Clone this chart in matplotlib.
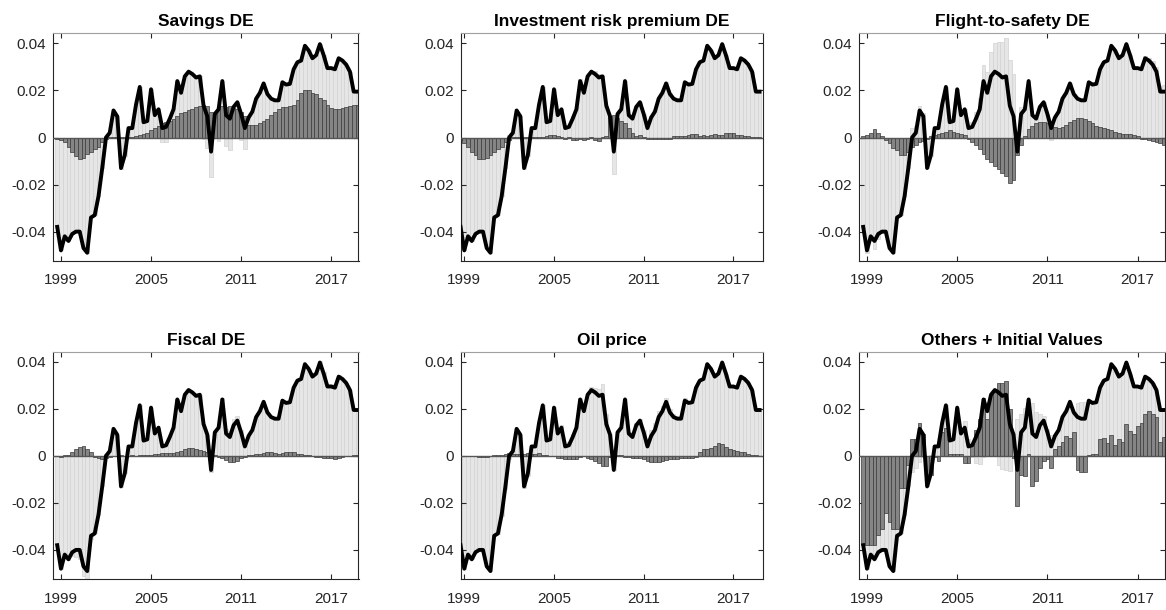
import numpy as np
import matplotlib
matplotlib.use('Agg')
import matplotlib.pyplot as plt
from matplotlib.ticker import FuncFormatter

plt.rcParams['font.family'] = ['Liberation Sans', 'DejaVu Sans']

# quarterly dates, 1998Q4 .. 2018Q4
dates = 1998.75 + 0.25 * np.arange(81)

# observed series (black line)
total = [
    -0.038, -0.048, -0.042, -0.044, -0.041, -0.040, -0.040, -0.047, -0.049, -0.034,
    -0.033, -0.025, -0.013, 0.000, 0.002, 0.0115, 0.009, -0.013, -0.0075, 0.004,
    0.004, 0.014, 0.0215, 0.0065, 0.007, 0.0205, 0.0095, 0.012, 0.004, 0.0045,
    0.008, 0.012, 0.024, 0.019, 0.026, 0.028, 0.027, 0.0255, 0.026, 0.0135,
    0.009, -0.006, 0.010, 0.012, 0.024, 0.0095, 0.008, 0.013, 0.015, 0.010,
    0.004, 0.0085, 0.011, 0.0165, 0.019, 0.023, 0.0185, 0.0165, 0.0158, 0.0158,
    0.0235, 0.0225, 0.0228, 0.029, 0.032, 0.0327, 0.039, 0.037, 0.0337, 0.035,
    0.0397, 0.035, 0.0295, 0.0295, 0.029, 0.0337, 0.0327, 0.031, 0.028, 0.0195,
    0.0195,
]

# contribution of each shock
savings = [
    -0.0005, -0.001, -0.002, -0.004, -0.006, -0.008, -0.009, -0.0085, -0.007, -0.006,
    -0.005, -0.004, -0.002, -0.0005, 0.0002, 0.0003, 0.0003, 0.0002, 0.0002, 0.0003,
    0.0003, 0.0005, 0.001, 0.0015, 0.002, 0.003, 0.004, 0.005, 0.006, 0.0065,
    0.007, 0.008, 0.009, 0.0105, 0.011, 0.0115, 0.012, 0.013, 0.0135, 0.014,
    0.0135, 0.011, 0.010, 0.0135, 0.0135, 0.013, 0.0135, 0.0125, 0.012, 0.011,
    0.009, 0.0055, 0.0055, 0.0055, 0.006, 0.007, 0.008, 0.0095, 0.011, 0.012,
    0.013, 0.013, 0.0135, 0.014, 0.016, 0.019, 0.020, 0.020, 0.019, 0.0185,
    0.017, 0.016, 0.014, 0.0125, 0.0123, 0.0123, 0.0125, 0.013, 0.0135, 0.014,
    0.014,
]

inv_risk = [
    -0.001, -0.0025, -0.004, -0.006, -0.0075, -0.009, -0.009, -0.0085, -0.0075, -0.006,
    -0.005, -0.004, -0.002, -0.001, 0.0003, 0.0003, 0.0003, 0.0002, 0.0002, 0.0002,
    0.0003, 0.0003, 0.0003, 0.0005, 0.001, 0.001, 0.0005, 0.0002, -0.0005, 0.0002,
    -0.001, -0.001, -0.0008, -0.001, -0.0005, 0.0002, -0.0012, -0.0015, 0.0002, 0.0005,
    0.009, 0.0095, 0.0085, 0.007, 0.006, 0.004, 0.002, 0.0005, 0.0012, 0.0002,
    -0.0005, -0.0005, -0.0007, -0.0007, -0.0008, -0.0008, -0.0005, 0.0008, 0.0006, 0.0008,
    0.0005, 0.001, 0.0015, 0.0015, 0.0008, 0.001, 0.0008, 0.0012, 0.0015, 0.0012,
    0.0012, 0.0018, 0.002, 0.0018, 0.0012, 0.0012, 0.0008, 0.0005, 0.0003, 0.0003,
    0.0003,
]

flight = [
    0.0005, 0.001, 0.002, 0.0035, 0.002, 0.0008, -0.001, -0.0025, -0.0045, -0.0055,
    -0.0075, -0.0075, -0.006, -0.004, -0.003, -0.002, -0.0015, -0.0008, 0.0005, 0.001,
    0.0015, 0.002, 0.0025, 0.003, 0.0025, 0.002, 0.0015, 0.001, -0.0005, -0.002,
    -0.003, -0.005, -0.007, -0.009, -0.0105, -0.012, -0.0135, -0.015, -0.0165, -0.0195,
    -0.018, -0.0075, -0.003, 0.0005, 0.0035, 0.005, 0.006, 0.0065, 0.0068, 0.006,
    0.005, 0.0045, 0.004, 0.0045, 0.0055, 0.0068, 0.0075, 0.0085, 0.0085, 0.008,
    0.007, 0.006, 0.005, 0.0045, 0.004, 0.0035, 0.003, 0.0025, 0.002, 0.0015,
    0.0015, 0.0015, 0.001, 0.0005, -0.0005, -0.0008, -0.001, -0.0015, -0.002, -0.0025,
    -0.003,
]

fiscal = [
    -0.0002, -0.0005, 0.0002, 0.0005, 0.0015, 0.003, 0.0038, 0.004, 0.003, 0.0015,
    -0.0003, -0.0008, -0.0012, -0.0008, -0.0003, -0.0002, 0.0001, 0.0002, -0.0001, 0.0001,
    0.0002, 0.0001, 0.0002, 0.0002, 0.0002, 0.0005, 0.0008, 0.001, 0.0012, 0.0012,
    0.0012, 0.0012, 0.0015, 0.002, 0.0028, 0.0035, 0.0035, 0.003, 0.0025, 0.002,
    0.0015, 0.0008, 0.0005, -0.0003, -0.0008, -0.0018, -0.0025, -0.0028, -0.002, -0.001,
    -0.0005, 0.0002, 0.0005, 0.0008, 0.001, 0.0012, 0.0015, 0.0018, 0.0012, 0.001,
    0.0012, 0.0015, 0.0018, 0.0015, 0.001, 0.0008, 0.0005, 0.0002, 0.0001, -0.0003,
    -0.0005, -0.0008, -0.001, -0.001, -0.0012, -0.0008, -0.0005, -0.0002, 0.0001, 0.0002,
    0.0002,
]

oil = [
    -0.0001, -0.0001, -0.0002, -0.0002, -0.0002, -0.0004, -0.0005, -0.0003, 0.0001, 0.0002,
    0.0003, 0.0005, 0.001, 0.0012, 0.0008, 0.001, 0.0008, 0.0008, 0.0012, 0.001,
    0.001, 0.0012, 0.0005, 0.0002, 0.0001, -0.0002, -0.0008, -0.001, -0.0012, -0.0015,
    -0.0015, -0.0012, -0.0005, 0.0001, -0.0008, -0.0012, -0.002, -0.003, -0.0045, -0.0045,
    -0.0005, 0.0002, 0.0005, 0.0002, -0.0003, -0.0005, -0.0008, -0.001, -0.0008, -0.0012,
    -0.002, -0.0025, -0.0028, -0.0025, -0.002, -0.0018, -0.0015, -0.0012, -0.0012, -0.001,
    -0.001, -0.001, -0.0008, -0.0003, 0.0015, 0.003, 0.0028, 0.0035, 0.004, 0.0055,
    0.005, 0.0038, 0.003, 0.0025, 0.002, 0.0018, 0.0015, 0.001, 0.0005, 0.0002,
    0.0001,
]

others = [
    -0.038, -0.038, -0.038, -0.038, -0.0335, -0.031, -0.0245, -0.028, -0.031, -0.031,
    -0.0135, -0.0135, -0.004, 0.007, 0.007, 0.014, 0.0095, -0.010, -0.008, -0.0005,
    -0.002, 0.010, 0.012, 0.001, 0.001, 0.001, 0.001, -0.003, -0.003, 0.005,
    0.011, 0.0155, 0.0245, 0.0155, 0.026, 0.028, 0.031, 0.031, 0.032, 0.020,
    -0.001, -0.0215, -0.008, -0.0085, 0.001, -0.013, -0.0105, -0.005, -0.002, -0.0015,
    -0.005, 0.003, 0.004, 0.006, 0.0085, 0.0075, 0.010, -0.006, -0.007, -0.007,
    0.0005, 0.0008, 0.001, 0.007, 0.0075, 0.0055, 0.009, 0.0045, 0.007, 0.006,
    0.0135, 0.0105, 0.0095, 0.0125, 0.014, 0.018, 0.019, 0.018, 0.0165, 0.006,
    0.008,
]

titles = ['Savings DE', 'Investment risk premium DE', 'Flight-to-safety DE',
          'Fiscal DE', 'Oil price', 'Others + Initial Values']
contribs = [savings, inv_risk, flight, fiscal, oil, others]

yticks = [-0.04, -0.02, 0, 0.02, 0.04]
xticks = [1999, 2005, 2011, 2017]


def fmt_y(v, pos):
    if abs(v) < 1e-12:
        return '0'
    return '%.2f' % v


def draw_panel(ax, title, contrib, xlim):
    y = np.array(total)
    c = np.array(contrib)
    rest = y - c
    # rest of the shocks stacked on the same side as the shock, otherwise from zero
    base = np.where(np.sign(rest) == np.sign(c), c, 0.0)

    w = 0.25
    ax.bar(dates, rest, bottom=base, width=w, color='#e6e6e6',
           edgecolor='#d2d2d2', linewidth=0.5, zorder=1)
    ax.bar(dates, c, width=w, color='#858585',
           edgecolor='#3a3a3a', linewidth=0.5, zorder=2)
    ax.axhline(0, color='#555555', lw=1.0, zorder=3)
    ax.plot(dates, y, color='black', lw=2.8, zorder=4, solid_joinstyle='round')

    ax.set_xlim(*xlim)
    ax.set_ylim(-0.0525, 0.0443)
    ax.set_xticks(xticks)
    ax.set_yticks(yticks)
    ax.yaxis.set_major_formatter(FuncFormatter(fmt_y))
    ax.tick_params(direction='in', length=3.5, width=0.8, top=True, right=True,
                   labelsize=11, colors='#262626')
    ax.tick_params(axis='x', pad=9)
    ax.tick_params(axis='y', pad=5)
    for side in ['left', 'bottom', 'right']:
        ax.spines[side].set_color('#262626')
        ax.spines[side].set_linewidth(0.8)
    ax.spines['top'].set_color('#a0a0a0')
    ax.spines['top'].set_linewidth(0.8)
    ax.set_title(title, fontsize=12.5, fontweight='bold', pad=5)


fig = plt.figure(figsize=(11.66, 6.10), dpi=100)
W, H = 1166.0, 610.0

# panel boxes in pixels: left, right, top, bottom
cols = [(53.3, 358.5, (1998.49, 2018.82)),
        (461.0, 763.0, (1998.78, 2018.98)),
        (859.3, 1165.0, (1998.49, 2018.82))]
rows = [(33.3, 261.0), (351.7, 579.3)]

k = 0
for top, bottom in rows:
    for left, right, xlim in cols:
        ax = fig.add_axes([left / W, 1 - bottom / H, (right - left) / W, (bottom - top) / H])
        draw_panel(ax, titles[k], contribs[k], xlim)
        k += 1

fig.savefig('out.png', dpi=100)
